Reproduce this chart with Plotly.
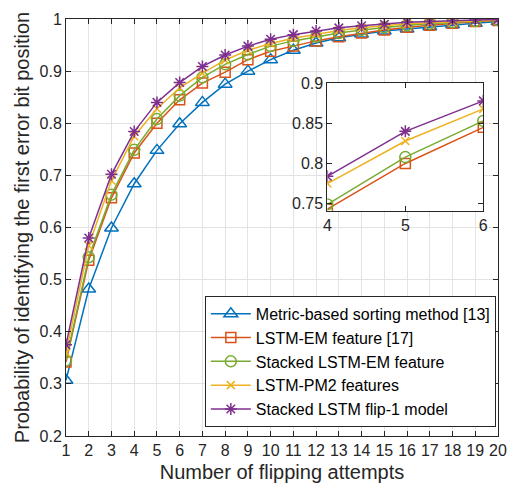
import plotly.graph_objects as go

# Flipping attempts 1..20
attempts = list(range(1, 21))

metric_sorting = [0.307, 0.482, 0.599, 0.684, 0.748, 0.799, 0.840, 0.875, 0.900, 0.922,
                  0.940, 0.954, 0.964, 0.971, 0.977, 0.981, 0.985, 0.989, 0.992, 0.995]
lstm_em = [0.342, 0.537, 0.657, 0.743, 0.800, 0.845, 0.877, 0.898, 0.922, 0.938,
           0.948, 0.958, 0.966, 0.973, 0.979, 0.984, 0.988, 0.992, 0.995, 0.997]
stacked_lstm_em = [0.345, 0.543, 0.663, 0.749, 0.808, 0.853, 0.888, 0.913, 0.932, 0.948,
                   0.958, 0.966, 0.973, 0.979, 0.984, 0.988, 0.991, 0.994, 0.996, 0.998]
lstm_pm2 = [0.360, 0.565, 0.690, 0.775, 0.828, 0.868, 0.896, 0.921, 0.940, 0.953,
            0.963, 0.971, 0.978, 0.983, 0.987, 0.991, 0.993, 0.995, 0.997, 0.998]
stacked_flip1 = [0.375, 0.580, 0.702, 0.784, 0.840, 0.878, 0.909, 0.931, 0.948, 0.961,
                 0.970, 0.977, 0.983, 0.987, 0.990, 0.994, 0.995, 0.997, 0.998, 0.999]

names = ["Metric-based sorting method [13]", "LSTM-EM feature [17]",
         "Stacked LSTM-EM feature", "LSTM-PM2 features", "Stacked LSTM flip-1 model"]
series = [metric_sorting, lstm_em, stacked_lstm_em, lstm_pm2, stacked_flip1]
colors = ["#0072BD", "#D95319", "#77AC30", "#EDB120", "#7E2F8E"]
symbols = ["triangle-up-open", "square-open", "circle-open", "x-thin-open", "asterisk-open"]
sizes = [12, 10, 11, 8, 10]

y_ticks = [0.2, 0.3, 0.4, 0.5, 0.6, 0.7, 0.8, 0.9, 1.0]
y_labels = ["0.2", "0.3", "0.4", "0.5", "0.6", "0.7", "0.8", "0.9", "1"]

FONT = "Liberation Sans, Arial, Helvetica, sans-serif"
TXT = "#262626"

fig = go.Figure()

for name, ys, c, s, sz in zip(names, series, colors, symbols, sizes):
    fig.add_trace(go.Scatter(
        x=attempts, y=ys, name=name, mode="lines+markers",
        line=dict(color=c, width=1.5),
        marker=dict(symbol=s, size=sz, color=c, line=dict(color=c, width=1.5)),
    ))

# Zoomed inset: attempts 4..6, excluding the metric-based curve
for name, ys, c, s, sz in list(zip(names, series, colors, symbols, sizes))[1:]:
    fig.add_trace(go.Scatter(
        x=attempts[3:6], y=ys[3:6], name=name, mode="lines+markers",
        showlegend=False, xaxis="x2", yaxis="y2",
        line=dict(color=c, width=1.5),
        marker=dict(symbol=s, size=sz, color=c, line=dict(color=c, width=1.5)),
    ))

axis_common = dict(
    showline=True, linecolor="#262626", linewidth=1, mirror="ticks",
    ticks="inside", ticklen=5, tickcolor="#262626",
    tickfont=dict(family=FONT, size=16, color=TXT),
    zeroline=False,
)

fig.update_layout(
    width=518, height=492,
    margin=dict(l=66, r=11, t=16, b=56),
    paper_bgcolor="white", plot_bgcolor="white",
    font=dict(family=FONT, color=TXT),
    xaxis=dict(
        range=[1, 20], tickvals=attempts, showgrid=True, gridcolor="#e3e3e3",
        title=dict(text="Number of flipping attempts", font=dict(family=FONT, size=20, color=TXT), standoff=6),
        **axis_common,
    ),
    yaxis=dict(
        range=[0.2, 1.0], tickvals=y_ticks, ticktext=y_labels, showgrid=True, gridcolor="#e3e3e3",
        title=dict(text="Probability of identifying the first error bit position",
                   font=dict(family=FONT, size=20, color=TXT), standoff=4),
        **axis_common,
    ),
    xaxis2=dict(
        domain=[0.605, 0.966], anchor="y2", range=[4, 6], tickvals=[4, 5, 6],
        showgrid=False, **axis_common,
    ),
    yaxis2=dict(
        domain=[0.540, 0.846], anchor="x2", range=[0.741, 0.9],
        tickvals=[0.75, 0.8, 0.85, 0.9], ticktext=["0.75", "0.8", "0.85", "0.9"],
        showgrid=False, **axis_common,
    ),
    legend=dict(
        x=0.995, y=0.022, xanchor="right", yanchor="bottom",
        bgcolor="white", bordercolor="#262626", borderwidth=1,
        font=dict(family=FONT, size=16, color="#000000"),
        tracegroupgap=0, itemwidth=40,
    ),
)

fig.write_html("out.html")
